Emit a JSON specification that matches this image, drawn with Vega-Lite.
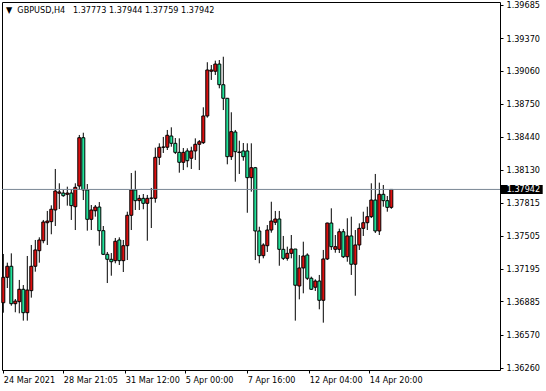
{
  "$schema": "https://vega.github.io/schema/vega-lite/v6.json",
  "width": 498,
  "height": 368,
  "autosize": {"type": "none"},
  "padding": {"left": 2, "top": 2, "right": 46, "bottom": 21},
  "background": "white",
  "config": {
    "view": {"stroke": "black", "strokeWidth": 1},
    "font": "DejaVu Sans Condensed",
    "axis": {"labelOverlap": false, "labelSeparation": 0, "labelFlush": false, "labelBound": false}
  },
  "title": {
    "text": "▼\u00a0\u00a0GBPUSD,H4\u00a0\u00a0\u00a01.37773 1.37944 1.37759 1.37942",
    "anchor": "start",
    "frame": "group",
    "baseline": "top",
    "offset": -14,
    "dx": 4,
    "font": "DejaVu Sans Condensed",
    "fontSize": 9,
    "fontWeight": "normal",
    "color": "black"
  },
  "data": {
    "values": [
      {"i":0,"o":1.36873,"h":1.37333,"l":1.36779,"c":1.37113},
      {"i":1,"o":1.37113,"h":1.37251,"l":1.37012,"c":1.37217},
      {"i":2,"o":1.37217,"h":1.37339,"l":1.36845,"c":1.36864},
      {"i":3,"o":1.36864,"h":1.36908,"l":1.36783,"c":1.36889},
      {"i":4,"o":1.36883,"h":1.37088,"l":1.36773,"c":1.37000},
      {"i":5,"o":1.37000,"h":1.37040,"l":1.36704,"c":1.36779},
      {"i":6,"o":1.36779,"h":1.37314,"l":1.36704,"c":1.36993},
      {"i":7,"o":1.36987,"h":1.37418,"l":1.36921,"c":1.37217},
      {"i":8,"o":1.37217,"h":1.37465,"l":1.37166,"c":1.37371},
      {"i":9,"o":1.37364,"h":1.37490,"l":1.37251,"c":1.37465},
      {"i":10,"o":1.37458,"h":1.37654,"l":1.37434,"c":1.37635},
      {"i":11,"o":1.37628,"h":1.37739,"l":1.37418,"c":1.37644},
      {"i":12,"o":1.37638,"h":1.37792,"l":1.37519,"c":1.37755},
      {"i":13,"o":1.37748,"h":1.38135,"l":1.37597,"c":1.37927},
      {"i":14,"o":1.37906,"h":1.38000,"l":1.37757,"c":1.37918},
      {"i":15,"o":1.37908,"h":1.37937,"l":1.37873,"c":1.37883},
      {"i":16,"o":1.37896,"h":1.37968,"l":1.37789,"c":1.37908},
      {"i":17,"o":1.37908,"h":1.37946,"l":1.37654,"c":1.37789},
      {"i":18,"o":1.37779,"h":1.38000,"l":1.37559,"c":1.37962},
      {"i":19,"o":1.37974,"h":1.38456,"l":1.37937,"c":1.38430},
      {"i":20,"o":1.38430,"h":1.38477,"l":1.37842,"c":1.37937},
      {"i":21,"o":1.37937,"h":1.37993,"l":1.37553,"c":1.37660},
      {"i":22,"o":1.37660,"h":1.37795,"l":1.37559,"c":1.37748},
      {"i":23,"o":1.37741,"h":1.37795,"l":1.37685,"c":1.37776},
      {"i":24,"o":1.37776,"h":1.37823,"l":1.37411,"c":1.37553},
      {"i":25,"o":1.37553,"h":1.37597,"l":1.37323,"c":1.37330},
      {"i":26,"o":1.37330,"h":1.37352,"l":1.37059,"c":1.37283},
      {"i":27,"o":1.37283,"h":1.37342,"l":1.37128,"c":1.37260},
      {"i":28,"o":1.37270,"h":1.37484,"l":1.37245,"c":1.37453},
      {"i":29,"o":1.37465,"h":1.37490,"l":1.37229,"c":1.37270},
      {"i":30,"o":1.37270,"h":1.37465,"l":1.37163,"c":1.37411},
      {"i":31,"o":1.37411,"h":1.37732,"l":1.37276,"c":1.37698},
      {"i":32,"o":1.37698,"h":1.38097,"l":1.37559,"c":1.37937},
      {"i":33,"o":1.37937,"h":1.38119,"l":1.37748,"c":1.37836},
      {"i":34,"o":1.37836,"h":1.37890,"l":1.37748,"c":1.37858},
      {"i":35,"o":1.37858,"h":1.37899,"l":1.37755,"c":1.37811},
      {"i":36,"o":1.37811,"h":1.37890,"l":1.37458,"c":1.37858},
      {"i":37,"o":1.37858,"h":1.37956,"l":1.37578,"c":1.37861},
      {"i":38,"o":1.37858,"h":1.38336,"l":1.37817,"c":1.38245},
      {"i":39,"o":1.38245,"h":1.38377,"l":1.38173,"c":1.38340},
      {"i":40,"o":1.38340,"h":1.38437,"l":1.38286,"c":1.38342},
      {"i":41,"o":1.38340,"h":1.38503,"l":1.38314,"c":1.38453},
      {"i":42,"o":1.38446,"h":1.38528,"l":1.38345,"c":1.38377},
      {"i":43,"o":1.38377,"h":1.38427,"l":1.38276,"c":1.38292},
      {"i":44,"o":1.38292,"h":1.38424,"l":1.38100,"c":1.38198},
      {"i":45,"o":1.38198,"h":1.38333,"l":1.38125,"c":1.38292},
      {"i":46,"o":1.38305,"h":1.38330,"l":1.38151,"c":1.38213},
      {"i":47,"o":1.38236,"h":1.38345,"l":1.38135,"c":1.38305},
      {"i":48,"o":1.38305,"h":1.38424,"l":1.38220,"c":1.38368},
      {"i":49,"o":1.38368,"h":1.38408,"l":1.38125,"c":1.38392},
      {"i":50,"o":1.38383,"h":1.38717,"l":1.38371,"c":1.38635},
      {"i":51,"o":1.38635,"h":1.39142,"l":1.38619,"c":1.39069},
      {"i":52,"o":1.39057,"h":1.39116,"l":1.38975,"c":1.39069},
      {"i":53,"o":1.39057,"h":1.39157,"l":1.39022,"c":1.39125},
      {"i":54,"o":1.39125,"h":1.39163,"l":1.38896,"c":1.38930},
      {"i":55,"o":1.38930,"h":1.39194,"l":1.38691,"c":1.38802},
      {"i":56,"o":1.38802,"h":1.38805,"l":1.38179,"c":1.38251},
      {"i":57,"o":1.38251,"h":1.38670,"l":1.38220,"c":1.38487},
      {"i":58,"o":1.38484,"h":1.38503,"l":1.38015,"c":1.38298},
      {"i":59,"o":1.38295,"h":1.38402,"l":1.38088,"c":1.38290},
      {"i":60,"o":1.38305,"h":1.38380,"l":1.38213,"c":1.38251},
      {"i":61,"o":1.38305,"h":1.38377,"l":1.37722,"c":1.38053},
      {"i":62,"o":1.38053,"h":1.38377,"l":1.37921,"c":1.38147},
      {"i":63,"o":1.38147,"h":1.38154,"l":1.37276,"c":1.37550},
      {"i":64,"o":1.37550,"h":1.37590,"l":1.37245,"c":1.37317},
      {"i":65,"o":1.37317,"h":1.37434,"l":1.37292,"c":1.37418},
      {"i":66,"o":1.37411,"h":1.37606,"l":1.37352,"c":1.37559},
      {"i":67,"o":1.37559,"h":1.37826,"l":1.37534,"c":1.37644},
      {"i":68,"o":1.37632,"h":1.37739,"l":1.37606,"c":1.37663},
      {"i":69,"o":1.37663,"h":1.37739,"l":1.37222,"c":1.37377},
      {"i":70,"o":1.37377,"h":1.37503,"l":1.37276,"c":1.37292},
      {"i":71,"o":1.37292,"h":1.37402,"l":1.37270,"c":1.37339},
      {"i":72,"o":1.37339,"h":1.37512,"l":1.37292,"c":1.37380},
      {"i":73,"o":1.37380,"h":1.37380,"l":1.36704,"c":1.37038},
      {"i":74,"o":1.37031,"h":1.37323,"l":1.36905,"c":1.37201},
      {"i":75,"o":1.37201,"h":1.37449,"l":1.36962,"c":1.37314},
      {"i":76,"o":1.37323,"h":1.37339,"l":1.37088,"c":1.37104},
      {"i":77,"o":1.37104,"h":1.37119,"l":1.36993,"c":1.37000},
      {"i":78,"o":1.37019,"h":1.37094,"l":1.36984,"c":1.37078},
      {"i":79,"o":1.37078,"h":1.37135,"l":1.36811,"c":1.36896},
      {"i":80,"o":1.36896,"h":1.37371,"l":1.36685,"c":1.37286},
      {"i":81,"o":1.37286,"h":1.37628,"l":1.37276,"c":1.37625},
      {"i":82,"o":1.37625,"h":1.37764,"l":1.37371,"c":1.37402},
      {"i":83,"o":1.37377,"h":1.37512,"l":1.37345,"c":1.37402},
      {"i":84,"o":1.37377,"h":1.37572,"l":1.37342,"c":1.37543},
      {"i":85,"o":1.37543,"h":1.37569,"l":1.37295,"c":1.37307},
      {"i":86,"o":1.37307,"h":1.37670,"l":1.37260,"c":1.37503},
      {"i":87,"o":1.37503,"h":1.37685,"l":1.37135,"c":1.37236},
      {"i":88,"o":1.37236,"h":1.37559,"l":1.36939,"c":1.37418},
      {"i":89,"o":1.37418,"h":1.37622,"l":1.37371,"c":1.37575},
      {"i":90,"o":1.37575,"h":1.37732,"l":1.37503,"c":1.37628},
      {"i":91,"o":1.37628,"h":1.37779,"l":1.37559,"c":1.37685},
      {"i":92,"o":1.37685,"h":1.38000,"l":1.37672,"c":1.37842},
      {"i":93,"o":1.37842,"h":1.38088,"l":1.37531,"c":1.37550},
      {"i":94,"o":1.37550,"h":1.38006,"l":1.37512,"c":1.37896},
      {"i":95,"o":1.37896,"h":1.37984,"l":1.37779,"c":1.37836},
      {"i":96,"o":1.37836,"h":1.37880,"l":1.37732,"c":1.37773},
      {"i":97,"o":1.37773,"h":1.37944,"l":1.37759,"c":1.37942}
    ]
  },
  "layer": [
    {
      "mark": {"type": "rule", "color": "black", "strokeWidth": 1},
      "encoding": {
        "x": {
          "field": "i", "type": "quantitative",
          "scale": {"domain": [-0.325, 124.175], "nice": false, "zero": false, "padding": 0},
          "axis": {
            "values": [0, 15, 30.5, 45.5, 61, 76.5, 91.5],
            "tickCount": 20,
            "labelExpr": "datum.value < 7 ? '24 Mar 2021' : datum.value < 22 ? '28 Mar 21:05' : datum.value < 38 ? '31 Mar 12:00' : datum.value < 53 ? '5 Apr 00:00' : datum.value < 69 ? '7 Apr 16:00' : datum.value < 84 ? '12 Apr 04:00' : '14 Apr 20:00'",
            "labelAlign": "left",
            "labelBaseline": "top",
            "labelPadding": 2,
            "labelFont": "DejaVu Sans Condensed",
            "labelFontSize": 9,
            "labelColor": "black",
            "labelOverlap": false,
            "labelFlush": false,
            "tickSize": 3,
            "tickColor": "black",
            "domain": false,
            "grid": false,
            "title": null
          }
        },
        "y": {
          "field": "l", "type": "quantitative",
          "scale": {"domain": [1.362384, 1.397104], "nice": false, "zero": false, "padding": 0},
          "axis": {
            "orient": "right",
            "values": [1.3626, 1.3657, 1.36885, 1.37195, 1.37505, 1.37815, 1.3813, 1.3844, 1.3875, 1.3906, 1.3937, 1.39685],
            "tickCount": 30,
            "format": ".5f",
            "labelAlign": "left",
            "labelPadding": 3,
            "labelFont": "DejaVu Sans Condensed",
            "labelFontSize": 9,
            "labelColor": "black",
            "labelOverlap": false,
            "labelSeparation": 0,
            "labelFlush": false,
            "labelBound": false,
            "tickSize": 3,
            "tickColor": "black",
            "domain": false,
            "grid": false,
            "title": null
          }
        },
        "y2": {"field": "h"}
      }
    },
    {
      "mark": {"type": "bar", "size": 3, "stroke": "black", "strokeWidth": 1},
      "encoding": {
        "x": {"field": "i", "type": "quantitative", "scale": {"domain": [-0.325, 124.175], "nice": false, "zero": false, "padding": 0}},
        "y": {"field": "o", "type": "quantitative", "scale": {"domain": [1.362384, 1.397104], "nice": false, "zero": false, "padding": 0}},
        "y2": {"field": "c"},
        "fill": {"condition": {"test": "datum.c >= datum.o", "value": "#dd1010"}, "value": "#22e39b"}
      }
    },
    {
      "data": {"values": [{"p": 1.37942, "t": "1.37942"}]},
      "layer": [
        {
          "mark": {"type": "rule", "color": "#7a8794", "strokeWidth": 1},
          "encoding": {
            "y": {"field": "p", "type": "quantitative", "scale": {"domain": [1.362384, 1.397104], "nice": false, "zero": false, "padding": 0}}
          }
        },
        {
          "mark": {"type": "tick", "orient": "horizontal", "size": 42, "thickness": 9, "color": "black", "opacity": 1},
          "encoding": {
            "x": {"datum": 129.6, "type": "quantitative", "scale": {"domain": [-0.325, 124.175], "nice": false, "zero": false, "padding": 0}},
            "y": {"field": "p", "type": "quantitative", "scale": {"domain": [1.362384, 1.397104], "nice": false, "zero": false, "padding": 0}}
          }
        },
        {
          "mark": {"type": "text", "color": "white", "align": "left", "baseline": "middle", "font": "DejaVu Sans Condensed", "fontSize": 9},
          "encoding": {
            "x": {"datum": 125.85, "type": "quantitative", "scale": {"domain": [-0.325, 124.175], "nice": false, "zero": false, "padding": 0}},
            "y": {"field": "p", "type": "quantitative", "scale": {"domain": [1.362384, 1.397104], "nice": false, "zero": false, "padding": 0}},
            "text": {"field": "t"}
          }
        }
      ]
    }
  ]
}
